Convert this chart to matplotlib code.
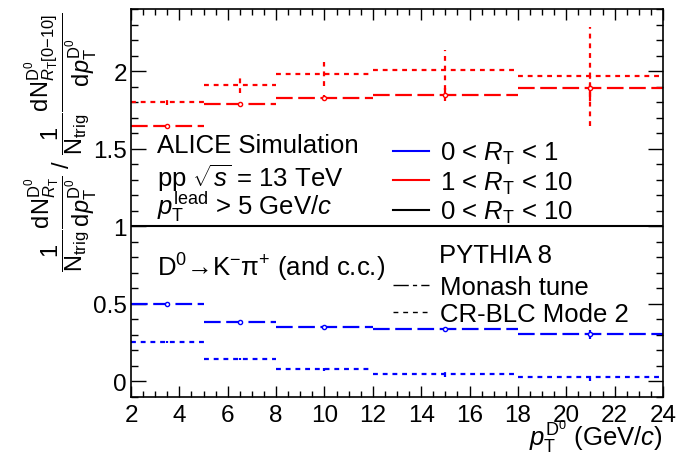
import numpy as np
import matplotlib
matplotlib.use('Agg')
import matplotlib.pyplot as plt
from matplotlib.lines import Line2D
from matplotlib.ticker import MultipleLocator, FormatStrFormatter

plt.rcParams['font.family'] = ['Liberation Sans', 'DejaVu Sans']
plt.rcParams['mathtext.fontset'] = 'custom'
plt.rcParams['mathtext.rm'] = 'Liberation Sans'
plt.rcParams['mathtext.it'] = 'Liberation Sans:italic'
plt.rcParams['mathtext.bf'] = 'Liberation Sans:bold'
plt.rcParams['mathtext.sf'] = 'Liberation Sans'
plt.rcParams['lines.scale_dashes'] = False

# pT bins of the D0
bin_lo = np.array([2, 5, 8, 12, 18])
bin_hi = np.array([5, 8, 12, 18, 24])

# 1 < RT < 10 (red)
red_monash = [1.649, 1.786, 1.827, 1.848, 1.889]
red_monash_err = [0.005, 0.01, 0.02, 0.04, 0.08]
red_cr = [1.801, 1.910, 1.981, 2.008, 1.966]
red_cr_err = [0.02, 0.05, 0.08, 0.13, 0.32]

# 0 < RT < 1 (blue)
blue_monash = [0.500, 0.385, 0.351, 0.335, 0.303]
blue_monash_err = [0.004, 0.006, 0.01, 0.015, 0.03]
blue_cr = [0.254, 0.143, 0.079, 0.045, 0.032]
blue_cr_err = [0.004, 0.006, 0.01, 0.015, 0.03]

MONASH = (0, (12, 4))
CRBLC = (0, (3.5, 3.5))
FS = 18.5   # text size
TFS = 17.5  # tick label size

x = (bin_lo + bin_hi) / 2
xerr = (bin_hi - bin_lo) / 2

fig = plt.figure(figsize=(6.77, 4.56), dpi=100)
ax = fig.add_axes([131 / 677, 1 - 398 / 456, 532 / 677, 388 / 456])


def draw(y, yerr, color, ls, marker):
    c = ax.errorbar(x, y, xerr=xerr, yerr=yerr, fmt=marker, color=color,
                    mfc='white', mec=color, ms=3, mew=1.0, elinewidth=1.6, capsize=0)
    for lc in c.lines[2]:
        lc.set_linestyle(ls)


draw(red_monash, red_monash_err, 'red', MONASH, 'o')
draw(red_cr, red_cr_err, 'red', CRBLC, 'none')
draw(blue_monash, blue_monash_err, 'blue', MONASH, 'o')
draw(blue_cr, blue_cr_err, 'blue', CRBLC, 'none')

ax.axhline(1, color='black', lw=1.5)

ax.set_xlim(2, 24)
ax.set_ylim(-0.1, 2.4)
ax.xaxis.set_major_locator(MultipleLocator(2))
ax.xaxis.set_minor_locator(MultipleLocator(0.5))
ax.yaxis.set_major_locator(MultipleLocator(0.5))
ax.yaxis.set_minor_locator(MultipleLocator(0.1))
ax.yaxis.set_major_formatter(FormatStrFormatter('%g'))
ax.tick_params(which='both', direction='in', top=True, right=True, labelsize=TFS, width=1)
ax.tick_params(axis='x', which='major', length=8, pad=5)
ax.tick_params(axis='x', which='minor', length=4)
ax.tick_params(axis='y', which='major', length=11, pad=3)
ax.tick_params(axis='y', which='minor', length=5)
for s in ax.spines.values():
    s.set_linewidth(1.2)

ax.set_xlabel(r'$p_{\mathrm{T}}^{\mathrm{D^0}}$ (GeV/$c$)', fontsize=FS, loc='right')
ax.xaxis.set_label_coords(1.0, -0.053)
ax.set_ylabel(r'$\dfrac{1}{\mathrm{N_{trig}}}\dfrac{\mathrm{dN}^{\mathrm{D^0}}_{R_\mathrm{T}}}'
              r'{\mathrm{d}p_\mathrm{T}^{\mathrm{D^0}}}$ / '
              r'$\dfrac{1}{\mathrm{N_{trig}}}\dfrac{\mathrm{dN}^{\mathrm{D^0}}_{R_\mathrm{T}[0\mathrm{-}10]}}'
              r'{\mathrm{d}p_\mathrm{T}^{\mathrm{D^0}}}$',
              fontsize=17, loc='top')
ax.yaxis.set_label_coords(-0.06, 0.995)

tx = 0.049
ax.text(tx, 0.649, 'ALICE Simulation', transform=ax.transAxes, fontsize=FS, va='center')
ax.text(tx, 0.567, r'pp $\sqrt{s}$ = 13 TeV', transform=ax.transAxes, fontsize=FS, va='center')
ax.text(tx, 0.492, r'$p_\mathrm{T}^\mathrm{lead}$ > 5 GeV/$c$', transform=ax.transAxes,
        fontsize=FS, va='center')
ax.text(tx, 0.335, 'D$^0$→K$^{-}$π$^{+}$ (and c.c.)', transform=ax.transAxes,
        fontsize=FS, va='center')
ax.text(0.579, 0.366, 'PYTHIA 8', transform=ax.transAxes, fontsize=FS, va='center')

rt_handles = [Line2D([], [], color='blue', lw=1.5),
              Line2D([], [], color='red', lw=1.5),
              Line2D([], [], color='black', lw=1.5)]
rt_labels = [r'0 < $R_\mathrm{T}$ < 1', r'1 < $R_\mathrm{T}$ < 10', r'0 < $R_\mathrm{T}$ < 10']
leg1 = ax.legend(rt_handles, rt_labels, loc='upper left', bbox_to_anchor=(0.492, 0.662),
                 frameon=False, fontsize=FS, handlelength=1.43, handletextpad=0.39,
                 borderpad=0, borderaxespad=0, labelspacing=0.12)
ax.add_artist(leg1)

tune_handles = [Line2D([], [], color='black', lw=1, ls=(0, (11, 3, 3, 3))),
                Line2D([], [], color='black', lw=1, ls=(0, (3.5, 3.5)))]
ax.legend(tune_handles, ['Monash tune', 'CR-BLC Mode 2'], loc='upper left',
          bbox_to_anchor=(0.492, 0.315), frameon=False, fontsize=FS, handlelength=1.43,
          handletextpad=0.39, borderpad=0, borderaxespad=0, labelspacing=0.12)

fig.savefig('out.png', dpi=100)
